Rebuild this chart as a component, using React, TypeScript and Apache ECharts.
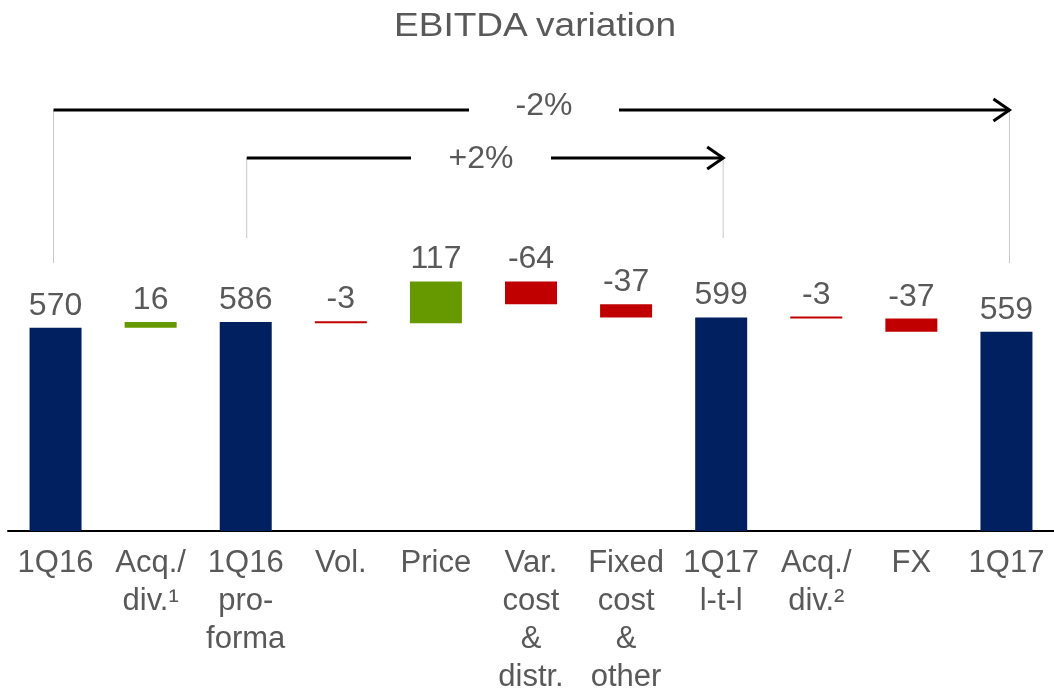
import React, { useEffect, useRef } from 'react';
import * as echarts from 'echarts';

// ---- Data ----
const categories = [
  '1Q16',
  'Acq./\ndiv.¹',
  '1Q16\npro-\nforma',
  'Vol.',
  'Price',
  'Var.\ncost\n&\ndistr.',
  'Fixed\ncost\n&\nother',
  '1Q17\nl-t-l',
  'Acq./\ndiv.²',
  'FX',
  '1Q17',
];
const values = [570, 16, 586, -3, 117, -64, -37, 599, -3, -37, 559];
const isTotal = [true, false, true, false, false, false, false, true, false, false, true];
const comparisonFrom = [0, 2];
const comparisonTo = [10, 7];
const comparisonLabels = ['-2%', '+2%'];
const titleText = 'EBITDA variation';

// ---- Styling / layout (not data) ----
const NAVY = '#002060';
const GREEN = '#669900';
const RED = '#C00000';
const TEXT = '#595959';
const FONT = '"Liberation Sans", Arial, Helvetica, sans-serif';
const ANNOT_LAYOUT = [
  { y: 110, textX: 544, textY: 104, gap: 75, dropTo: 263, fromDx: -2, toDx: 3 },
  { y: 158, textX: 481, textY: 157, gap: 70, dropTo: 238, fromDx: 1, toDx: 2 },
];

export default function App() {
  const ref = useRef<HTMLDivElement>(null);

  useEffect(() => {
    if (!ref.current) return;
    const chart = echarts.init(ref.current, null, { renderer: 'svg', width: 1054, height: 694 });

    let running = 0;
    const base: number[] = [];
    const heights: number[] = [];
    values.forEach((v, i) => {
      if (isTotal[i]) {
        base.push(0);
        heights.push(v);
        running = v;
      } else {
        const next = running + v;
        base.push(Math.min(running, next));
        heights.push(Math.abs(v));
        running = next;
      }
    });

    chart.setOption({
      animation: false,
      grid: { left: 8, top: 174.5, width: 1049, height: 363.5, containLabel: false },
      xAxis: {
        type: 'category',
        data: categories,
        axisLine: { lineStyle: { color: '#000', width: 2 } },
        axisTick: { show: false },
        axisLabel: {
          interval: 0,
          fontSize: 31,
          lineHeight: 38,
          color: TEXT,
          margin: 11,
          fontFamily: FONT,
        },
      },
      yAxis: { type: 'value', min: 0, max: 1000, show: false, splitLine: { show: false } },
      series: [
        {
          type: 'bar',
          stack: 'w',
          barWidth: 52,
          silent: true,
          itemStyle: { color: 'transparent' },
          data: base,
        },
        {
          type: 'bar',
          stack: 'w',
          barWidth: 52,
          barMinHeight: 2,
          data: heights.map((h, i) => ({
            value: h,
            itemStyle: { color: isTotal[i] ? NAVY : values[i] >= 0 ? GREEN : RED },
          })),
          label: {
            show: true,
            position: 'top',
            distance: 8,
            fontSize: 32,
            color: TEXT,
            fontFamily: FONT,
            formatter: (p: any) => String(values[p.dataIndex]),
          },
        },
      ],
    });

    const graphics: any[] = [
      {
        type: 'text',
        x: 535,
        y: 25,
        scaleX: 1.09,
        style: {
          text: titleText,
          fontSize: 34,
          fill: TEXT,
          fontFamily: FONT,
          align: 'center',
          verticalAlign: 'middle',
        },
      },
    ];
    comparisonFrom.forEach((fromIdx, k) => {
      const L = ANNOT_LAYOUT[k];
      const x1 = (chart.convertToPixel({ xAxisIndex: 0 }, fromIdx) as number) + L.fromDx;
      const x2 = (chart.convertToPixel({ xAxisIndex: 0 }, comparisonTo[k]) as number) + L.toDx;
      const grey = { stroke: '#C8C8C8', lineWidth: 1 };
      const black = { stroke: '#000', lineWidth: 3 };
      graphics.push(
        { type: 'line', shape: { x1, y1: L.y, x2: x1, y2: L.dropTo }, style: grey },
        { type: 'line', shape: { x1: x2, y1: L.y, x2, y2: L.dropTo }, style: grey },
        { type: 'line', shape: { x1, y1: L.y, x2: L.textX - L.gap, y2: L.y }, style: black },
        { type: 'line', shape: { x1: L.textX + L.gap, y1: L.y, x2, y2: L.y }, style: black },
        {
          type: 'polyline',
          shape: { points: [[x2 - 16, L.y - 11], [x2, L.y], [x2 - 16, L.y + 11]] },
          style: { stroke: '#000', lineWidth: 3, fill: null },
        },
        {
          type: 'text',
          x: L.textX,
          y: L.textY,
          style: {
            text: comparisonLabels[k],
            fontSize: 32,
            fill: TEXT,
            fontFamily: FONT,
            align: 'center',
            verticalAlign: 'middle',
          },
        }
      );
    });
    chart.setOption({ graphic: graphics });

    return () => chart.dispose();
  }, []);

  return (
    <div
      ref={ref}
      style={{ position: 'fixed', left: 0, top: 0, width: 1054, height: 694 }}
    />
  );
}
